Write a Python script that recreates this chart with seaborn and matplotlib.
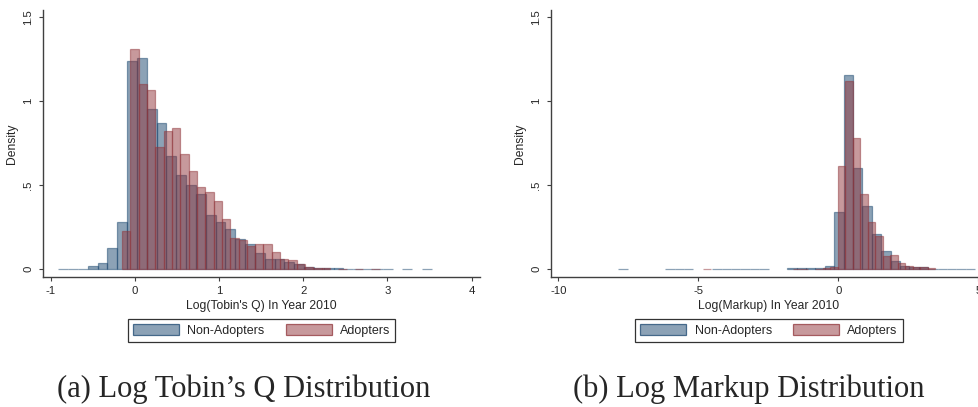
import numpy as np
import pandas as pd
import matplotlib
matplotlib.use("Agg")
import matplotlib.pyplot as plt
import matplotlib.patches as mpatches
from matplotlib.colors import to_rgba
import seaborn as sns

# ---- data (density per bin) ----
# (a) Log Tobin's Q, year 2010
q_nonadopt_start, q_nonadopt_width = -0.91, 0.1168
q_nonadopt = [0.003, 0.003, 0.003, 0.020, 0.036, 0.125, 0.280, 1.237, 1.253, 0.950,
              0.867, 0.675, 0.558, 0.499, 0.447, 0.320, 0.283, 0.238, 0.178, 0.148,
              0.095, 0.063, 0.060, 0.045, 0.030, 0.012, 0.010, 0.010, 0.008, 0.003,
              0.003, 0.003, 0.003, 0.003, 0.0, 0.003, 0.0, 0.003]
q_adopt_start, q_adopt_width = -0.151, 0.0987
q_adopt = [0.226, 1.306, 1.099, 1.063, 0.724, 0.819, 0.841, 0.683, 0.582, 0.487,
           0.457, 0.408, 0.297, 0.184, 0.172, 0.140, 0.148, 0.148, 0.105, 0.063,
           0.053, 0.030, 0.012, 0.010, 0.006, 0.0, 0.004, 0.0, 0.004, 0.0, 0.004]

# (b) Log Markup, year 2010
m_nonadopt_start, m_nonadopt_width = -7.86, 0.3353
m_nonadopt = [0.003, 0.0, 0.0, 0.0, 0.0, 0.003, 0.003, 0.003, 0.0, 0.0,
              0.003, 0.003, 0.003, 0.002, 0.002, 0.002, 0.0, 0.0, 0.006, 0.006,
              0.006, 0.008, 0.022, 0.338, 1.156, 0.600, 0.376, 0.210, 0.107, 0.048,
              0.022, 0.014, 0.012, 0.004, 0.003, 0.002, 0.002, 0.002]
m_adopt_start, m_adopt_width = -4.83, 0.2671
m_adopt = [0.003, 0.0, 0.0, 0.0, 0.0, 0.0, 0.0, 0.0, 0.0, 0.0,
           0.0, 0.0, 0.004, 0.004, 0.0, 0.004, 0.008, 0.012, 0.612, 1.118,
           0.778, 0.445, 0.283, 0.200, 0.079, 0.083, 0.036, 0.018, 0.012, 0.012,
           0.006]

group_labels = ["Non-Adopters", "Adopters"]
y_ticks = [0, 0.5, 1, 1.5]
y_ticklabels = ["0", ".5", "1", "1.5"]

NAVY = (26 / 255, 71 / 255, 111 / 255)
MAROON = (144 / 255, 53 / 255, 59 / 255)
SPINE = "#404040"

sns.set_theme(style="ticks")
plt.rcParams["font.family"] = ["Liberation Sans", "DejaVu Sans"]


def draw_hist(ax, start, width, heights, color):
    heights = np.asarray(heights, dtype=float)
    edges = start + width * np.arange(len(heights) + 1)
    df = pd.DataFrame({"mid": (edges[:-1] + edges[1:]) / 2, "dens": heights})
    n_before = len(ax.patches)
    sns.histplot(data=df, x="mid", weights="dens", bins=edges.tolist(), stat="count",
                 color=color, alpha=0.5, edgecolor=to_rgba(color, 0.5),
                 linewidth=0.9, legend=False, ax=ax)
    # empty bins are not drawn (Stata leaves gaps)
    for p in ax.patches[n_before:]:
        if p.get_height() == 0:
            p.set_visible(False)


def style_axes(ax, xlim, xticks, xlabel):
    ax.set_xlim(*xlim)
    ax.set_ylim(-0.044, 1.54)
    ax.set_xticks(xticks)
    ax.set_xticklabels([str(t) for t in xticks])
    ax.set_yticks(y_ticks)
    ax.set_yticklabels(y_ticklabels, rotation=90, va="center")
    ax.set_xlabel(xlabel, fontsize=8.7, labelpad=3)
    ax.set_ylabel("Density", fontsize=8.7, labelpad=4)
    ax.tick_params(axis="both", labelsize=8.2, length=2.6, width=0.8,
                   color=SPINE, pad=4.2)
    for s in ["top", "right"]:
        ax.spines[s].set_visible(False)
    for s in ["left", "bottom"]:
        ax.spines[s].set_color(SPINE)
        ax.spines[s].set_linewidth(1.0)
    ax.grid(False)


fig = plt.figure(figsize=(9.79, 4.07), dpi=100)
ax1 = fig.add_axes([0.0436, 0.3202, 0.4467, 0.6553])
ax2 = fig.add_axes([0.5625, 0.3202, 0.4447, 0.6553])

draw_hist(ax1, q_nonadopt_start, q_nonadopt_width, q_nonadopt, NAVY)
draw_hist(ax1, q_adopt_start, q_adopt_width, q_adopt, MAROON)
style_axes(ax1, (-1.095, 4.099), [-1, 0, 1, 2, 3, 4], "Log(Tobin's Q) In Year 2010")

draw_hist(ax2, m_nonadopt_start, m_nonadopt_width, m_nonadopt, NAVY)
draw_hist(ax2, m_adopt_start, m_adopt_width, m_adopt, MAROON)
style_axes(ax2, (-10.27, 5.27), [-10, -5, 0, 5], "Log(Markup) In Year 2010")

handles = [mpatches.Patch(facecolor=to_rgba(c, 0.5), edgecolor=to_rgba(c, 0.75),
                          linewidth=0.9)
           for c in (NAVY, MAROON)]
for cx in (0.2673, 0.7855):
    leg = fig.legend(handles, group_labels, loc="center", bbox_to_anchor=(cx, 0.188),
                     ncol=2, fontsize=9, frameon=True, fancybox=False,
                     handlelength=3.7, handleheight=1.0, handletextpad=0.65,
                     columnspacing=1.7, borderpad=0.4, borderaxespad=0)
    leg.get_frame().set_edgecolor("black")
    leg.get_frame().set_linewidth(0.9)

cap_font = ["Liberation Serif", "DejaVu Serif"]
fig.text(0.2485, 0.0246, "(a) Log Tobin\u2019s Q Distribution", ha="center",
         va="baseline", fontsize=22, family=cap_font)
fig.text(0.7645, 0.0246, "(b) Log Markup Distribution", ha="center",
         va="baseline", fontsize=22, family=cap_font)

fig.savefig("out.png", dpi=100)
